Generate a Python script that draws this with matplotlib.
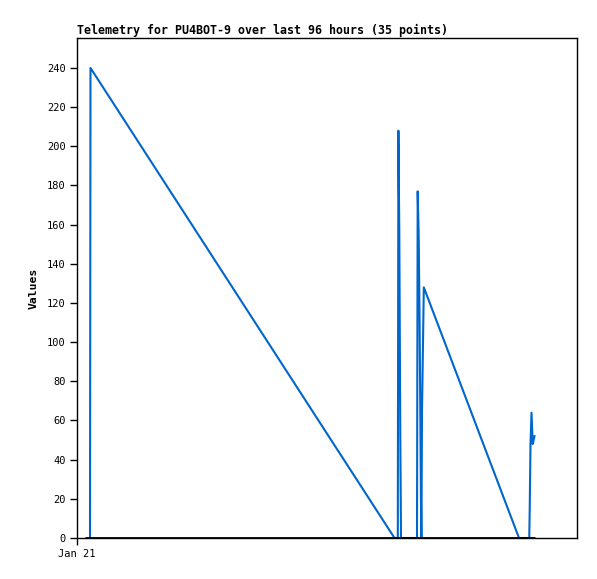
import matplotlib
matplotlib.use("Agg")
import matplotlib.pyplot as plt
import matplotlib.dates as mdates
import numpy as np
from datetime import datetime, timedelta

# telemetry samples: hours after Jan 21 00:00, value
hours = [0.52, 0.54, 12.70,
         12.832, 12.856, 12.892, 12.932, 12.960,
         13.600, 13.627, 13.668, 13.704, 13.732, 13.756, 13.776, 13.800, 13.872,
         17.68,
         18.09, 18.11, 18.14, 18.18, 18.23, 18.30]
values = [0, 240, 0,
          0, 208, 156, 52, 0,
          0, 177, 154, 110, 66, 22, 0, 64, 128,
          0,
          0, 16, 48, 64, 48, 52]

# flat baseline series
base_hours = [0.32, 18.32]
base_values = [0, 0]

start = datetime(2024, 1, 21)
t = [start + timedelta(hours=h) for h in hours]
tb = [start + timedelta(hours=h) for h in base_hours]

fig = plt.figure(figsize=(5.97, 5.79), dpi=100)
ax = fig.add_axes([77 / 597, 1 - 538 / 579, 500 / 597, 500 / 579])

ax.plot(t, values, color="#0066cc", lw=1.5, zorder=2)
ax.plot(tb, base_values, color="black", lw=2.0, solid_capstyle="butt", zorder=3)

ax.set_xlim(start, start + timedelta(hours=20))
ax.set_ylim(0, 255.3)
ax.set_yticks(np.arange(0, 241, 20))
ax.set_xticks([start])
ax.xaxis.set_major_formatter(mdates.DateFormatter("%b %d"))

mono = "DejaVu Sans Mono"
for lab in ax.get_xticklabels() + ax.get_yticklabels():
    lab.set_family(mono)
    lab.set_fontsize(7.5)
ax.tick_params(direction="out", length=5, width=1, pad=3)
ax.set_ylabel("Values", family=mono, fontweight="bold", fontsize=8.2, labelpad=6)
ax.set_title("Telemetry for PU4BOT-9 over last 96 hours (35 points)",
             family=mono, fontweight="bold", fontsize=8.35, loc="left", pad=3)
for s in ax.spines.values():
    s.set_linewidth(1)

fig.savefig("out.png", dpi=100)
